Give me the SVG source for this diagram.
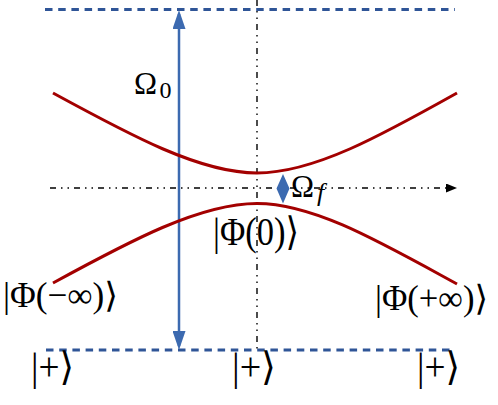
<svg xmlns="http://www.w3.org/2000/svg" width="498" height="405" viewBox="0 0 498 405">
<style>
.lvl{fill:none;stroke:#2F5597;stroke-width:3;stroke-dasharray:7.5 5.7}
.axis{fill:none;stroke:#000;stroke-width:1.4;stroke-dasharray:6 5 1.5 5 1.5 5}
.curve{fill:none;stroke:#A30000;stroke-width:3}
.rabi{stroke:#3C6AB0;stroke-width:2.5}
.t{font-family:"Liberation Serif","DejaVu Serif",serif;fill:#000}
</style>
<defs>
<marker id="bigHead" markerUnits="userSpaceOnUse" markerWidth="19" markerHeight="13" viewBox="0 0 19 13" refX="15" refY="6.5" orient="auto-start-reverse">
<path d="M0,0 L19,6.5 L0,13 Z" fill="#3C6AB0"/>
</marker>
<marker id="axHead" markerUnits="userSpaceOnUse" markerWidth="11" markerHeight="9" viewBox="0 0 11 9" refX="10" refY="4.5" orient="auto">
<path d="M0,0 L11,4.5 L0,9 Z" fill="#000"/>
</marker>
</defs>
<g id="levels">
<line class="lvl" x1="45" y1="9.5" x2="455" y2="9.5"/>
<line class="lvl" x1="46" y1="350" x2="452" y2="350"/>
</g>
<g id="connectors">
<line class="axis" x1="50" y1="188" x2="456" y2="188" marker-end="url(#axHead)"/>
<line class="axis" x1="257" y1="0" x2="257" y2="353"/>
<line class="rabi" x1="179" y1="14" x2="179" y2="346" marker-start="url(#bigHead)" marker-end="url(#bigHead)"/>
<path d="M283,174 L289.5,188.5 L276.5,188.5 Z M283,203.5 L289.5,188.5 L276.5,188.5 Z" fill="#3C6AB0"/>
</g>
<g id="upper-branch">
<path class="curve" d="M53,93 C130,135 200,173 257,173 C314,173 382,135 457,93"/>
</g>
<g id="lower-branch">
<path class="curve" d="M53,283 C130,241 200,203.5 257,203.5 C314,203.5 380,242 457,284"/>
</g>
<g id="label-omega0">
<text class="t" x="134" y="94" font-size="31">Ω<tspan x="159.5" y="98" font-size="24">0</tspan></text>
</g>
<g id="label-omegaf">
<text class="t" x="291" y="197" font-size="31">Ω<tspan x="317" y="201" font-size="26" font-style="italic">f</tspan></text>
</g>
<g id="state-0">
<text class="t" x="213" y="245" font-size="39" textLength="86" lengthAdjust="spacingAndGlyphs">|Φ(0)⟩</text>
</g>
<g id="state-minus">
<text class="t" x="3" y="307" font-size="35" textLength="115" lengthAdjust="spacingAndGlyphs">|Φ(−∞)⟩</text>
</g>
<g id="state-plus">
<text class="t" x="375" y="310" font-size="35" textLength="113" lengthAdjust="spacingAndGlyphs">|Φ(+∞)⟩</text>
</g>
<g id="ket-left">
<text class="t" x="31" y="380" font-size="39" textLength="43" lengthAdjust="spacingAndGlyphs">|+⟩</text>
</g>
<g id="ket-mid">
<text class="t" x="232" y="380" font-size="39" textLength="44" lengthAdjust="spacingAndGlyphs">|+⟩</text>
</g>
<g id="ket-right">
<text class="t" x="417" y="380" font-size="39" textLength="43" lengthAdjust="spacingAndGlyphs">|+⟩</text>
</g>
</svg>
